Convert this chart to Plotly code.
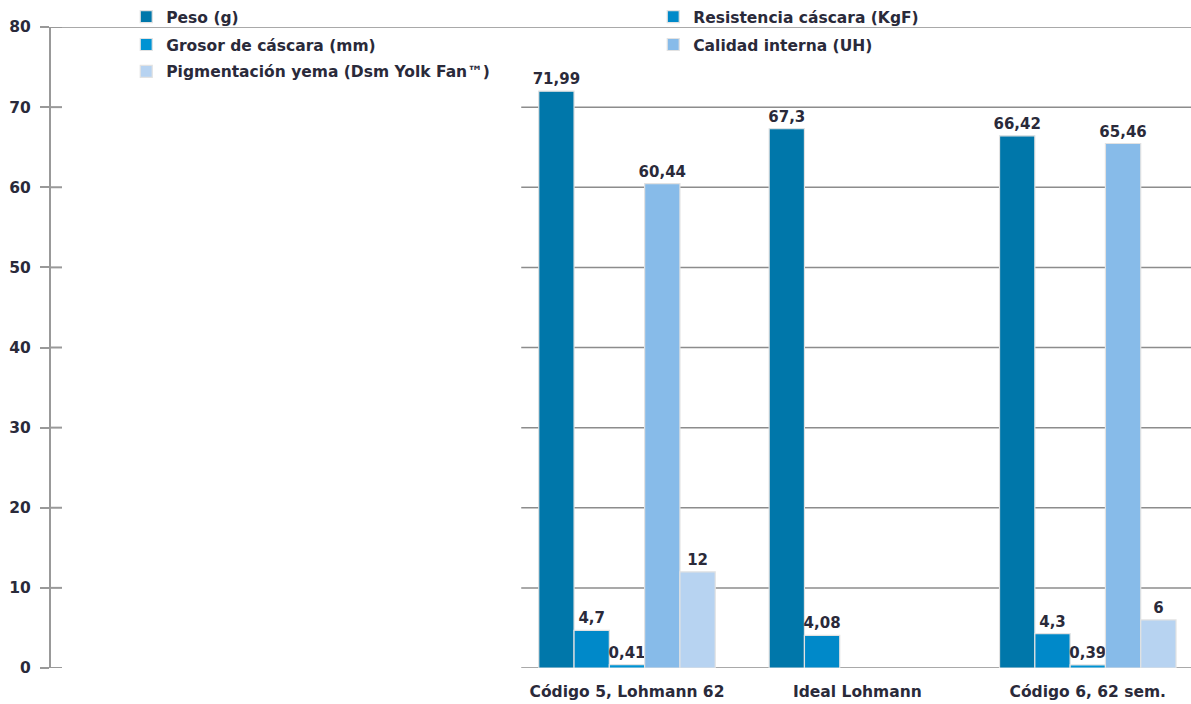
import plotly.graph_objects as go

categories = ["Código 5, Lohmann 62", "Ideal Lohmann", "Código 6, 62 sem."]
series_names = [
    "Peso (g)",
    "Resistencia cáscara (KgF)",
    "Grosor de cáscara (mm)",
    "Calidad interna (UH)",
    "Pigmentación yema (Dsm Yolk Fan™)",
]
peso = [71.99, 67.3, 66.42]
resistencia = [4.7, 4.08, 4.3]
grosor = [0.41, None, 0.39]
calidad = [60.44, None, 65.46]
pigmentacion = [12, None, 6]
y_ticks = [0, 10, 20, 30, 40, 50, 60, 70, 80]

colors = ["#0077AA", "#0089C9", "#0093D3", "#87BBE9", "#B7D3F1"]
legend_ids = ["legend", "legend", "legend2", "legend2", "legend3"]
all_values = [peso, resistencia, grosor, calidad, pigmentacion]

FONT = "DejaVu Sans"
TXT = "#2a2a3a"


def fmt(v):
    if v is None:
        return ""
    return ("%g" % v).replace(".", ",")


fig = go.Figure()
for name, vals, col, lg in zip(series_names, all_values, colors, legend_ids):
    fig.add_trace(go.Bar(
        x=categories, y=vals, name=name,
        marker=dict(color=col, line=dict(color="#e2e2e2", width=1.2)),
        text=[fmt(v) for v in vals], textposition="outside",
        constraintext="none", cliponaxis=False,
        textfont=dict(family=FONT, size=15, color=TXT, weight="bold"),
        legend=lg,
    ))

shapes = []
grid_col = "#8c8c8c"
for v in y_ticks:
    if v == 80:
        shapes.append(dict(type="line", xref="paper", x0=0, x1=1, yref="y", y0=v, y1=v,
                           line=dict(color=grid_col, width=1.5), layer="below"))
    else:
        shapes.append(dict(type="line", xref="x", x0=-0.459, x1=2.6, yref="y", y0=v, y1=v,
                           line=dict(color=grid_col, width=1.5), layer="below"))
    # inner part of cross tick
    shapes.append(dict(type="line", xref="paper", xsizemode="pixel", xanchor=0, x0=0, x1=11,
                       yref="y", y0=v, y1=v, line=dict(color="#999999", width=2)))
for b in [0.5, 1.5]:
    shapes.append(dict(type="line", xref="x", x0=b, x1=b, yref="y", ysizemode="pixel", yanchor=0,
                       y0=0, y1=-7, line=dict(color="#999999", width=2)))

leg_common = dict(orientation="h", xanchor="left", yanchor="middle",
                  font=dict(family=FONT, size=15.5, color=TXT, weight="bold"),
                  bgcolor="rgba(0,0,0,0)", entrywidthmode="pixels", entrywidth=482,
                  itemclick=False, itemdoubleclick=False)

fig.update_layout(
    width=1191, height=704,
    margin=dict(l=51, r=0, t=27, b=36),
    plot_bgcolor="white", paper_bgcolor="white",
    barmode="group", bargap=0.234, bargroupgap=0,
    xaxis=dict(type="category", categoryorder="array", categoryarray=categories,
               range=[-2.5, 2.448], showgrid=False, showline=False, ticks="",
               zeroline=False, ticklabelstandoff=12,
               tickfont=dict(family=FONT, size=15.5, color=TXT, weight="bold"), fixedrange=True),
    yaxis=dict(range=[0, 80], tickvals=y_ticks, showgrid=False, zeroline=False,
               showline=True, linecolor="#999999", linewidth=2,
               ticks="outside", ticklen=9, tickwidth=2, tickcolor="#999999",
               ticklabelstandoff=6,
               tickfont=dict(family=FONT, size=15.5, color=TXT, weight="bold"), fixedrange=True),
    shapes=shapes,
    legend=dict(x=0.066, y=1.016, **leg_common),
    legend2=dict(x=0.066, y=0.972, **leg_common),
    legend3=dict(x=0.066, y=0.93, **leg_common),
    showlegend=True,
)

fig.write_html("out.html")
